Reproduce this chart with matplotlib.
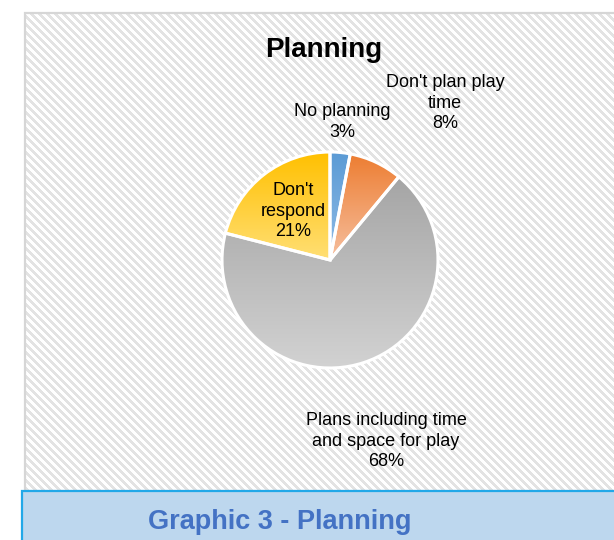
import matplotlib
matplotlib.use("Agg")
import matplotlib.pyplot as plt
import numpy as np
from matplotlib.patches import Rectangle
from matplotlib.colors import to_rgb

categories = ["No planning", "Don't plan play time", "Plans including time and space for play", "Don't respond"]
values = [3, 8, 68, 21]
label_texts = ["No planning\n3%", "Don't plan play\ntime\n8%", "Plans including time\nand space for play\n68%", "Don't\nrespond\n21%"]
grad_top = ["#5b9bd5", "#ed7d31", "#a5a5a5", "#ffc000"]
grad_bot = ["#8fbbe6", "#f6bf9f", "#d2d2d2", "#ffdf75"]

W, H = 614, 540
plt.rcParams['font.family'] = ['Liberation Sans', 'DejaVu Sans']
fig = plt.figure(figsize=(W/100, H/100), dpi=100)
fig.patch.set_facecolor('white')

def fx(x): return x / W
def fy(y): return 1 - y / H

# striped background panel
px0, py0, px1, py1 = 25, 13, 614, 491
bgax = fig.add_axes([fx(px0), fy(py1), (px1 - px0) / W, (py1 - py0) / H], zorder=0)
bgax.set_axis_off()
hh, ww = py1 - py0, px1 - px0
yy, xx = np.mgrid[0:hh, 0:ww]
stripe = ((xx + px0 - yy - py0) % 8) < 4
pat = np.ones((hh, ww, 3))
pat[stripe] = np.array(to_rgb('#e3e3e3'))
bgax.imshow(pat, aspect='auto', interpolation='nearest', extent=[0, ww, hh, 0])
bgax.set_xlim(0, ww)
bgax.set_ylim(hh, 0)
fig.add_artist(Rectangle((fx(px0), fy(py1)), fx(px1 - px0) + 0.01, (py1 - py0) / H,
                         transform=fig.transFigure, facecolor='none', edgecolor='#d6d6d6',
                         linewidth=1.6, zorder=1))

box = Rectangle((fx(22), fy(545)), fx(614 - 22) + 0.01, (545 - 491) / H,
                transform=fig.transFigure, facecolor='#bdd7ee', edgecolor='#22a8e8',
                linewidth=1.6, zorder=3)
fig.add_artist(box)
fig.text(fx(280), fy(522), "Graphic 3 - Planning", ha='center', va='center',
         fontsize=19.5, fontweight='bold', color='#4472c4', zorder=4)

fig.text(fx(324), fy(50), "Planning", ha='center', va='center', fontsize=20,
         fontweight='bold', color='black', zorder=4)

cx, cy, r = 330, 260, 108
ax = fig.add_axes([fx(cx - r - 4), fy(cy + r + 4), (2 * r + 8) / W, (2 * r + 8) / H], zorder=2)
ax.set_axis_off()
ax.patch.set_alpha(0)
wedges, _ = ax.pie(values, startangle=90, counterclock=False, radius=1,
                   wedgeprops=dict(edgecolor='white', linewidth=2.2))
lim = (r + 4) / r

for w, c1, c2 in zip(wedges, grad_top, grad_bot):
    bb = w.get_path().get_extents()
    t = np.linspace(0, 1, 256)[:, None]
    a, b = np.array(to_rgb(c1)), np.array(to_rgb(c2))
    img = (a[None, None, :] * (1 - t[..., None]) + b[None, None, :] * t[..., None])
    img = np.repeat(img, 2, axis=1)
    im = ax.imshow(img, extent=[bb.x0, bb.x1, bb.y0, bb.y1], origin='upper',
                   aspect='auto', zorder=1, interpolation='bilinear')
    im.set_clip_path(w)
    w.set_facecolor('none')
    w.set_zorder(2)
ax.set_xlim(-lim, lim)
ax.set_ylim(-lim, lim)
ax.set_aspect('equal')

label_pos = [(342, 122), (445, 103), (386, 441), (293, 211)]
for txt, (x, y) in zip(label_texts, label_pos):
    fig.text(fx(x), fy(y), txt, ha='center', va='center', fontsize=13,
             color='black', linespacing=1.25, zorder=4)

fig.savefig("out.png", dpi=100, facecolor='white')
